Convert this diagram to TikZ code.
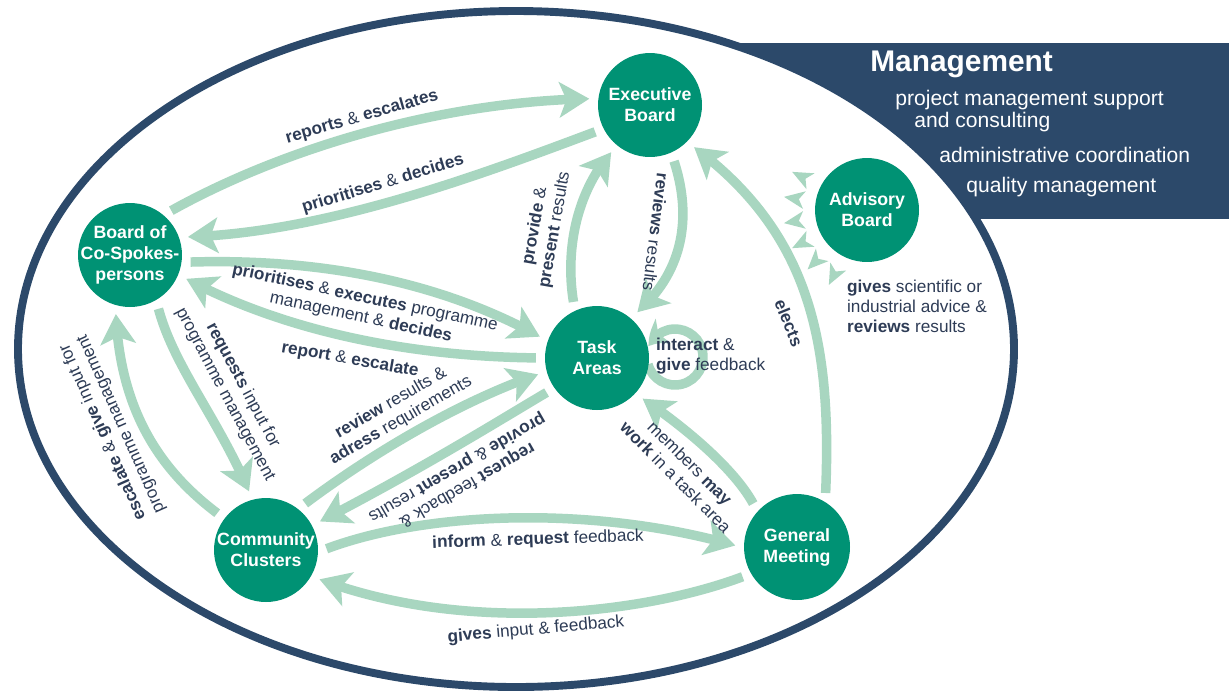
\documentclass[tikz,border=0pt]{standalone}
\usepackage{fontspec}
\setmainfont{Liberation Sans}
\usetikzlibrary{arrows.meta, bending, shapes.geometric}
\definecolor{navy}{RGB}{44,73,106}
\definecolor{boardgreen}{RGB}{0,146,116}
\definecolor{flowgreen}{RGB}{168,214,192}
\definecolor{labelink}{RGB}{46,60,86}
\pgfdeclarelayer{back}
\pgfdeclarelayer{links}
\pgfsetlayers{back,links,main}

\begin{document}
\begin{tikzpicture}[x=0.02cm, y=0.02cm,
    board/.style={circle, fill=boardgreen, text=white, minimum size=2.08cm, inner sep=-6pt, align=center, font=\bfseries\fontsize{10.1}{12}\selectfont},
    flow/.style={draw=flowgreen, line width=5.4pt, -{Stealth[length=17pt, width=20pt, inset=4pt]}, shorten <=5pt, shorten >=5pt},
    loopflow/.style={flow, -{Stealth[length=12pt, width=16pt, inset=3pt, bend]}, shorten <=0pt, shorten >=0pt},
    lbl/.style={text=labelink, font=\fontsize{9.8}{11.4}\selectfont, align=center, inner sep=1pt},
    mgmt/.style={text=white, anchor=west, inner sep=0pt, font=\fontsize{12}{14}\selectfont}]
    \useasboundingbox (0,0) rectangle (1229,-694);
    % Management band and frame
    \begin{pgfonlayer}{back}
        \fill[navy] (700,-43) rectangle (1229,-219);
        \filldraw[fill=white, draw=navy, line width=4.5pt] (516,-349) ellipse [x radius=498, y radius=338];
    \end{pgfonlayer}
    \node[mgmt, font=\bfseries\fontsize{17}{20}\selectfont] (mtitle) at (870,-64) {Management};
    \node[mgmt] (m1) at (895,-100) {project management support};
    \node[mgmt] (m2) at (914,-122) {and consulting};
    \node[mgmt] (m3) at (939,-155) {administrative coordination};
    \node[mgmt] (m4) at (966,-187) {quality management};
    % Define nodes
    \node[board] (eb) at (650,-105) {Executive\\Board};
    \node[board] (bcs) at (130,-255) {Board of\\Co-Spokes-\\persons};
    \node[board] (ta) at (597,-358) {Task\\Areas};
    \node[board] (ab) at (867,-210) {Advisory\\Board};
    \node[board] (cc) at (266,-550) {Community\\Clusters};
    \node[board, minimum size=2.12cm] (gm) at (797,-547) {General\\Meeting};
    % connections
    \begin{pgfonlayer}{links}
        \draw[flow] (bcs.50) .. controls (280,-150) and (440,-100) .. (eb.173);
        \draw[flow] (eb.207) .. controls (480,-175) and (320,-235) .. (bcs.20);
        \draw[flow] (bcs.-8) .. controls (330,-258) and (450,-285) .. (ta.161);
        \draw[flow] (ta.180) .. controls (380,-356) and (260,-320) .. (bcs.-22);
        \draw[flow] (bcs.-60) .. controls (175,-370) and (220,-420) .. (cc.105);
        \draw[flow] (cc.143) .. controls (160,-470) and (118,-410) .. (bcs.-106);
        \draw[flow] (cc.52) .. controls (370,-455) and (460,-400) .. (ta.195);
        \draw[flow] (ta.215) .. controls (500,-420) and (420,-470) .. (cc.28);
        \draw[flow] (cc.-2) .. controls (430,-510) and (600,-505) .. (gm.181);
        \draw[flow] (gm.210) .. controls (640,-615) and (460,-635) .. (cc.-30);
        \draw[flow] (gm.138) .. controls (735,-470) and (690,-430) .. (ta.-43);
        \draw[flow] (gm.58) .. controls (832,-340) and (810,-230) .. (eb.-45);
        \draw[flow] (ta.115) .. controls (565,-250) and (575,-190) .. (eb.231);
        \draw[flow] (eb.-66) .. controls (690,-210) and (690,-270) .. (ta.50);
        \coordinate (loopc) at ([shift={(78,1)}]ta.center);
        \draw[loopflow] ([shift={(195:28)}]loopc) arc[start angle=195, end angle=518, radius=28];
        % advice rays
        \foreach \a [evaluate=\a as \lo using \a-8, evaluate=\a as \hi using \a+8] in {153,171,...,243}
            \fill[flowgreen] ([shift={(\a:84)}]ab.center) -- ([shift={(\lo:64)}]ab.center) -- ([shift={(\a:69)}]ab.center) -- ([shift={(\hi:64)}]ab.center) -- cycle;
    \end{pgfonlayer}
    % labels
    \node[lbl, rotate=16] (lre) at (362,-117) {\textbf{reports} \& \textbf{escalates}};
    \node[lbl, rotate=17] (lpd) at (383,-184) {\textbf{prioritises} \& \textbf{decides}};
    \node[lbl, rotate=-12] (lpe) at (363,-308) {\textbf{prioritises} \& \textbf{executes} programme\\management \& \textbf{decides}};
    \node[lbl, rotate=-10] (lrep) at (350,-360) {\textbf{report} \& \textbf{escalate}};
    \node[lbl, rotate=-62] (lreq) at (234,-390) {\textbf{requests} input for\\programme management};
    \node[lbl, rotate=114] (lesc) at (112,-428) {\textbf{escalate} \& \textbf{give} input for\\programme management};
    \node[lbl, rotate=30] (lrev) at (396,-412) {\textbf{review} results \&\\\textbf{adress} requirements};
    \node[lbl, rotate=210] (lprov) at (462,-476) {\textbf{request} feedback \&\\\textbf{provide} \& \textbf{present} results};
    \node[lbl, rotate=2] (linf) at (538,-540) {\textbf{inform} \& \textbf{request} feedback};
    \node[lbl, rotate=5] (lgiv) at (536,-630) {\textbf{gives} input \& feedback};
    \node[lbl, rotate=-45] (lmem) at (683,-470) {members \textbf{may}\\\textbf{work} in a task area};
    \node[lbl, rotate=-68] (lel) at (789,-323) {\textbf{elects}};
    \node[lbl, rotate=80] (lpp) at (545,-228) {\textbf{provide} \&\\\textbf{present} results};
    \node[lbl, rotate=-97] (lrr) at (656,-232) {\textbf{reviews} results};
    \node[lbl, anchor=west, align=left] (lint) at (654,-356) {\textbf{interact} \&\\\textbf{give} feedback};
    \node[lbl, anchor=north west, align=left] (ladv) at (845,-278) {\textbf{gives} scientific or\\industrial advice \&\\\textbf{reviews} results};
\end{tikzpicture}
\end{document}
